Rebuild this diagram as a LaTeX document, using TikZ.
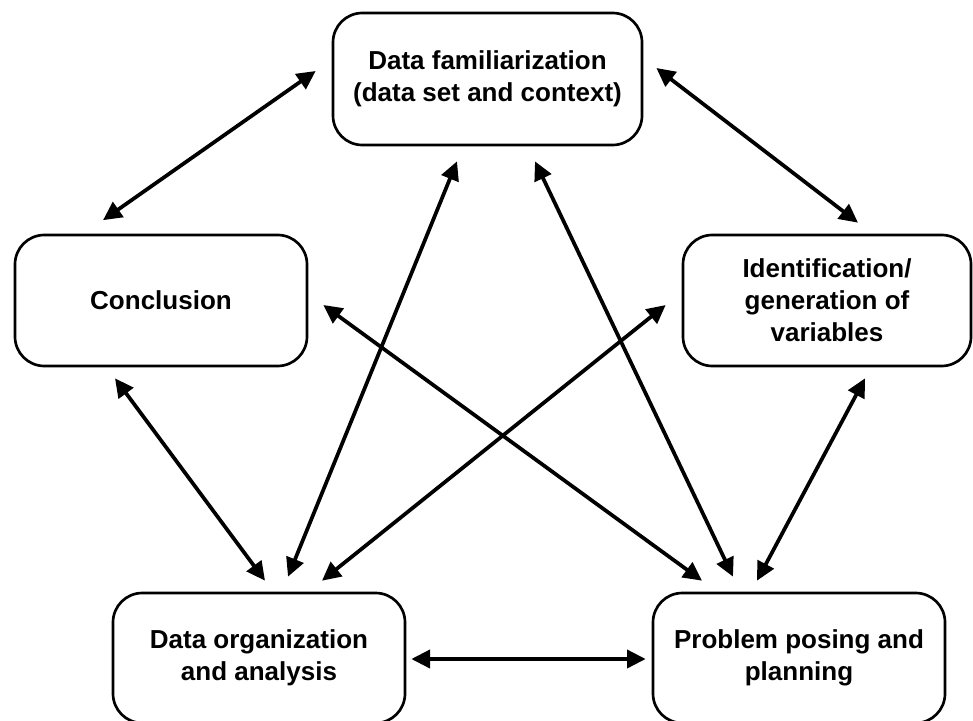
\documentclass[tikz,border=0pt]{standalone}
\usepackage{fontspec}
\setmainfont{Liberation Sans}
\usetikzlibrary{arrows.meta,calc}
\begin{document}
\begin{tikzpicture}[x=0.75pt,y=-0.75pt,
  box/.style={draw, line width=2pt, rounded corners=22pt, align=center,
    font=\fontsize{19.5}{24}\selectfont\bfseries, inner sep=0pt},
  arr/.style={line width=2.8pt, {Triangle[length=14pt,width=13.5pt]}-{Triangle[length=14pt,width=13.5pt]}}]
\clip (0,0) rectangle (973,720);
\fill[white] (0,0) rectangle (973,720);
\node[box, minimum width=231.75pt, minimum height=99pt] (top) at (487.5,79) {Data familiarization\\(data set and context)};
\node[box, minimum width=219pt, minimum height=98.25pt] (conc) at (161,300.5) {Conclusion};
\node[box, minimum width=216pt, minimum height=98.25pt] (ident) at (827,300.5) {Identification/\\generation of\\variables};
\node[box, minimum width=219pt, minimum height=97.5pt] (org) at (259,658) {Data organization\\and analysis};
\node[box, minimum width=219pt, minimum height=97.5pt] (prob) at (799,658) {Problem posing and\\planning};
\draw[arr] ($(conc.north)+(-58,-13.5)$) -- ($(top.west)+(-16,-8)$);
\draw[arr] ($(top.east)+(13,-11)$) -- ($(ident.north)+(31,-11)$);
\draw[arr] ($(conc.south)+(-46,11)$) -- ($(org.north)+(6,-11)$);
\draw[arr] ($(ident.south)+(38,11)$) -- ($(prob.north)+(-42,-11)$);
\draw[arr] ($(org.east)+(5,1)$) -- ($(prob.west)+(-6,1)$);
\draw[arr] ($(top.south)+(-30.5,15)$) -- ($(org.north)+(29,-15)$);
\draw[arr] ($(top.south)+(47.5,15)$) -- ($(prob.north)+(-66,-15)$);
\draw[arr] ($(conc.east)+(15,4.5)$) -- ($(prob.north)+(-97,-11)$);
\draw[arr] ($(ident.west)+(-16,4.5)$) -- ($(org.north)+(63,-11)$);
\end{tikzpicture}
\end{document}
